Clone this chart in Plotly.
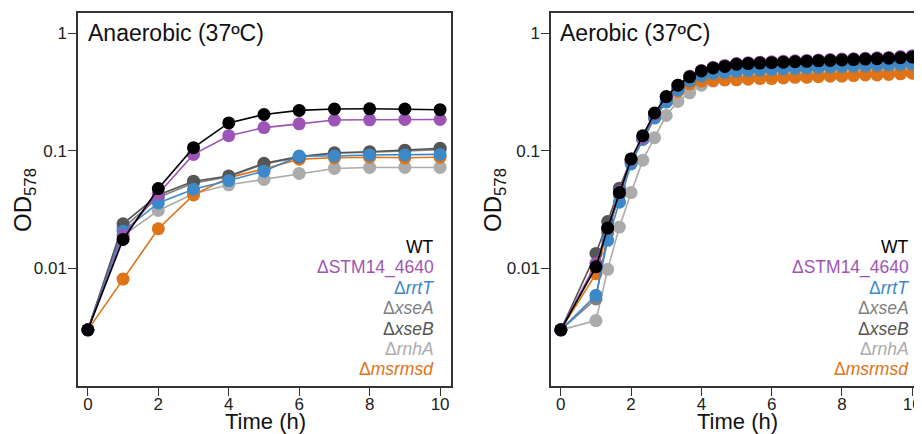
import plotly.graph_objects as go

# ---------------- data ----------------
strains = ["WT", "ΔSTM14_4640", "ΔrrtT", "ΔxseA", "ΔxseB", "ΔrnhA", "Δmsrmsd"]
legend_html = ["WT", "ΔSTM14_4640", "Δ<i>rrtT</i>", "Δ<i>xseA</i>", "Δ<i>xseB</i>", "Δ<i>rnhA</i>", "Δ<i>msrmsd</i>"]
colors = ["#000000", "#9E54B4", "#3C88C8", "#7F7F7F", "#555555", "#ABABAB", "#DE7318"]

time_anaer = [0, 1, 2, 3, 4, 5, 6, 7, 8, 9, 10]
anaer_wt     = [0.003, 0.0176, 0.0476, 0.106, 0.172, 0.203, 0.220, 0.226, 0.227, 0.226, 0.223]
anaer_stm    = [0.003, 0.019, 0.043, 0.093, 0.134, 0.157, 0.169, 0.182, 0.183, 0.184, 0.184]
anaer_rrtT   = [0.003, 0.0207, 0.036, 0.047, 0.0557, 0.067, 0.090, 0.090, 0.092, 0.092, 0.093]
anaer_xseA   = [0.003, 0.022, 0.040, 0.053, 0.060, 0.077, 0.088, 0.095, 0.097, 0.100, 0.102]
anaer_xseB   = [0.003, 0.0239, 0.042, 0.055, 0.061, 0.078, 0.089, 0.096, 0.098, 0.101, 0.105]
anaer_rnhA   = [0.003, 0.019, 0.031, 0.043, 0.0513, 0.057, 0.064, 0.0706, 0.072, 0.072, 0.072]
anaer_msrmsd = [0.003, 0.0081, 0.0217, 0.042, 0.059, 0.070, 0.0847, 0.087, 0.088, 0.087, 0.088]

time_aer = [0, 1, 1.333, 1.667, 2, 2.333, 2.667, 3, 3.333, 3.667, 4, 4.333, 4.667, 5,
            5.333, 5.667, 6, 6.333, 6.667, 7, 7.333, 7.667, 8, 8.333, 8.667, 9, 9.333, 9.667, 10]
aer_wt     = [0.003, 0.0103, 0.022, 0.044, 0.085, 0.134, 0.209, 0.288, 0.36, 0.424, 0.476, 0.505, 0.52, 0.543,
              0.55, 0.555, 0.56, 0.565, 0.57, 0.575, 0.58, 0.585, 0.59, 0.595, 0.60, 0.605, 0.61, 0.617, 0.626]
aer_stm    = [0.003, 0.011, 0.022, 0.045, 0.084, 0.13, 0.205, 0.285, 0.36, 0.43, 0.48, 0.51, 0.53, 0.55,
              0.56, 0.565, 0.57, 0.575, 0.58, 0.585, 0.59, 0.595, 0.60, 0.605, 0.61, 0.615, 0.62, 0.63, 0.64]
aer_rrtT   = [0.003, 0.0059, 0.0173, 0.0365, 0.077, 0.125, 0.19, 0.26, 0.33, 0.40, 0.44, 0.46, 0.47, 0.48,
              0.49, 0.495, 0.50, 0.505, 0.51, 0.515, 0.52, 0.525, 0.53, 0.535, 0.54, 0.545, 0.55, 0.555, 0.56]
aer_xseA   = [0.003, 0.0055, 0.020, 0.042, 0.080, 0.125, 0.19, 0.26, 0.33, 0.39, 0.43, 0.45, 0.46, 0.47,
              0.475, 0.48, 0.485, 0.49, 0.495, 0.50, 0.505, 0.51, 0.515, 0.52, 0.52, 0.525, 0.53, 0.535, 0.54]
aer_xseB   = [0.003, 0.0134, 0.025, 0.048, 0.085, 0.13, 0.20, 0.27, 0.34, 0.40, 0.45, 0.47, 0.48, 0.49,
              0.50, 0.505, 0.51, 0.515, 0.52, 0.525, 0.53, 0.535, 0.54, 0.545, 0.55, 0.555, 0.56, 0.565, 0.57]
aer_rnhA   = [0.003, 0.0036, 0.0098, 0.0224, 0.044, 0.083, 0.129, 0.199, 0.262, 0.31, 0.36, 0.39, 0.40, 0.41,
              0.415, 0.42, 0.425, 0.43, 0.435, 0.44, 0.445, 0.45, 0.455, 0.46, 0.46, 0.465, 0.47, 0.475, 0.48]
aer_msrmsd = [0.003, 0.009, 0.021, 0.042, 0.080, 0.125, 0.19, 0.26, 0.32, 0.37, 0.39, 0.395, 0.40, 0.40,
              0.405, 0.41, 0.41, 0.415, 0.42, 0.42, 0.425, 0.43, 0.43, 0.435, 0.44, 0.44, 0.445, 0.45, 0.455]

anaer = [anaer_wt, anaer_stm, anaer_rrtT, anaer_xseA, anaer_xseB, anaer_rnhA, anaer_msrmsd]
aer = [aer_wt, aer_stm, aer_rrtT, aer_xseA, aer_xseB, aer_rnhA, aer_msrmsd]

panel_titles = ["Anaerobic (37ºC)", "Aerobic (37ºC)"]
y_tickvals = [1, 0.1, 0.01]
y_ticktext = ["1", "0.1", "0.01"]
x_tickvals = [0, 2, 4, 6, 8, 10]

# ---------------- figure ----------------
OFF = 8                      # page body margin of the rendered html
W, H = 922 - OFF, 434 - OFF
mt, mb = 13 - OFF, 48
ph = H - mt - mb
FONT = "Liberation Sans, Arial, sans-serif"

fig = go.Figure()
draw_order = [5, 6, 3, 4, 2, 1, 0]  # rnhA, msrmsd, xseA, xseB, rrtT, STM, WT (WT on top)
for panel, (tx, data) in enumerate([(time_anaer, anaer), (time_aer, aer)]):
    xa = "x" if panel == 0 else "x2"
    ya = "y" if panel == 0 else "y2"
    for i in draw_order:
        fig.add_trace(go.Scatter(
            x=tx, y=data[i], mode="lines+markers", name=strains[i],
            line=dict(color=colors[i], width=1.6),
            marker=dict(color=colors[i], size=13, line=dict(width=0)),
            xaxis=xa, yaxis=ya, showlegend=False))

def px_x(X):          # X in reference-picture pixels
    return (X - OFF) / W

def px_y(Y):
    return (H - mb - (Y - OFF)) / ph

axis_common = dict(showgrid=False, zeroline=False, showline=True, linecolor="#333333", linewidth=1.5,
                   ticks="outside", ticklen=8, tickwidth=1.3, tickcolor="#333333",
                   tickfont=dict(family=FONT, size=17, color="#222222"))

fig.update_layout(
    width=W, height=H, margin=dict(l=0, r=0, t=mt, b=mb),
    plot_bgcolor="white", paper_bgcolor="white",
    font=dict(family=FONT, color="#000000"),
    xaxis=dict(domain=[px_x(78), px_x(451)], range=[-0.28, 10.31], tickvals=x_tickvals, mirror=True,
               anchor="y", ticklabelstandoff=-6, **axis_common),
    yaxis=dict(domain=[0, 1], type="log", range=[-3, 0.17], tickvals=y_tickvals, ticktext=y_ticktext,
               mirror=True, anchor="x", ticklabelstandoff=-2, **axis_common),
    xaxis2=dict(domain=[px_x(551), 1.0], range=[-0.28, 10.28], tickvals=x_tickvals, mirror=True,
                anchor="y2", ticklabelstandoff=-6, **axis_common),
    yaxis2=dict(domain=[0, 1], type="log", range=[-3, 0.17], tickvals=y_tickvals, ticktext=y_ticktext,
                mirror=False, anchor="x2", ticklabelstandoff=-2, **axis_common),
)

annotations = []
# panel titles
for X, t in [(86, panel_titles[0]), (558, panel_titles[1])]:
    annotations.append(dict(x=px_x(X), y=px_y(33), xref="paper", yref="paper", text=t, showarrow=False,
                            xanchor="left", yanchor="middle", font=dict(family=FONT, size=23, color="#111111")))
# axis titles
for X in [265, 737]:
    annotations.append(dict(x=px_x(X), y=px_y(421.5), xref="paper", yref="paper", text="Time (h)",
                            showarrow=False, xanchor="center", yanchor="middle",
                            font=dict(family=FONT, size=22, color="#111111")))
for X in [24, 494]:
    annotations.append(dict(x=px_x(X), y=px_y(200), xref="paper", yref="paper", text="OD<sub>578</sub>",
                            showarrow=False, xanchor="center", yanchor="middle", textangle=-90,
                            font=dict(family=FONT, size=24, color="#111111")))
# text legends
for Xr in [436, 911]:
    for k in range(len(strains)):
        annotations.append(dict(x=px_x(Xr), y=px_y(247 + 20.4 * k), xref="paper", yref="paper",
                                text=legend_html[k], showarrow=False, xanchor="right", yanchor="middle",
                                font=dict(family=FONT, size=17.5, color=colors[k])))
fig.update_layout(annotations=annotations)

fig.write_html("out.html")
